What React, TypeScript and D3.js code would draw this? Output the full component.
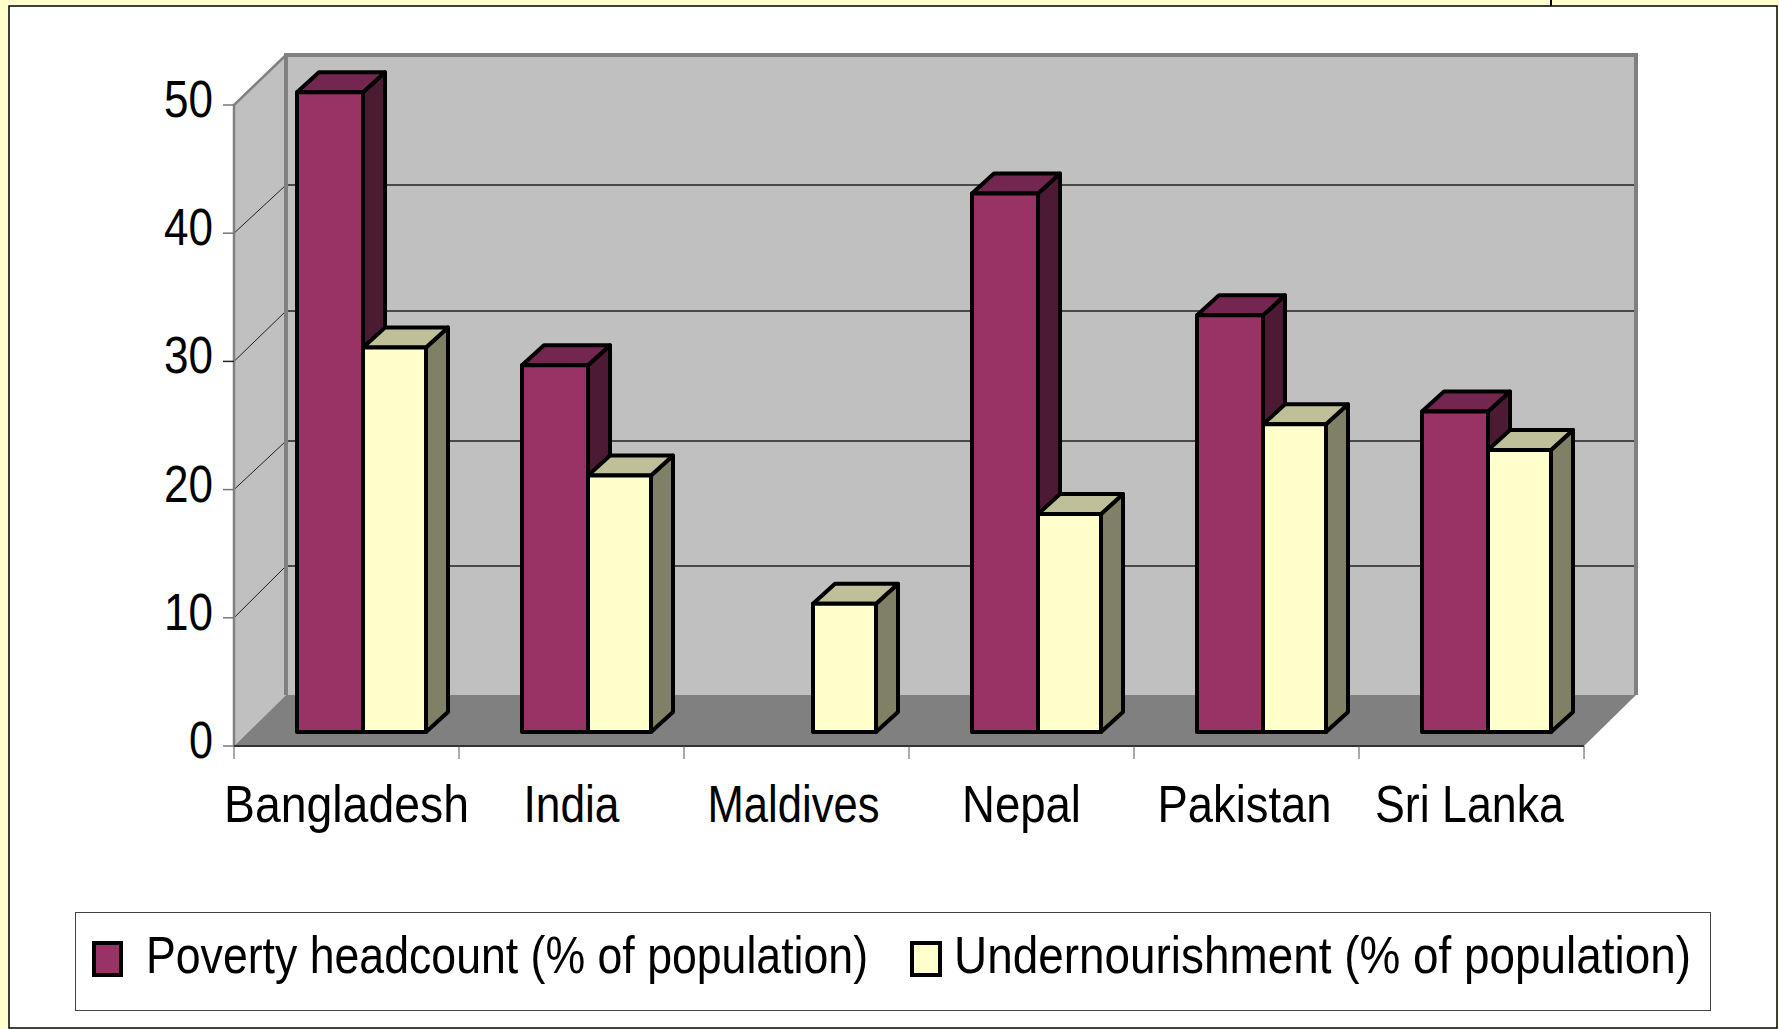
import React from "react";
import * as d3 from "d3";

const categories = ["Bangladesh", "India", "Maldives", "Nepal", "Pakistan", "Sri Lanka"];
const poverty: (number | null)[] = [49.9, 28.6, null, 42, 32.5, 25];
const undernourishment = [30, 20, 10, 17, 24, 22];
const yTicks = [0, 10, 20, 30, 40, 50];
const povertyLabel = "Poverty headcount (% of population)";
const underLabel = "Undernourishment (% of population)";

const W = 1779, H = 1029;
const FONT = "'Liberation Sans', Arial, sans-serif";
const FS = 52;
const catWidths = [245, 96, 172, 119, 174, 189];
const catNudge = [0, 0, -3, 0, -2, -2];
const catX = d3.scaleBand<string>().domain(categories).range([234, 1584]);
const yFront = d3.scaleLinear().domain([0, 50]).range([746, 105]);
const yBack = d3.scaleLinear().domain(yTicks).range([695, 566, 441, 311, 185, 55]);
const yBar = d3.scaleLinear().domain([0, 50]).range([732, 91]);
const DX = 52;
const BAR_OFF = 63, W1 = 66, W2 = 63, BDX = 22, BDY = 20;
const pts = (p: number[][]) => p.map((q) => q.join(",")).join(" ");

function Bar({ x, w, v, front, top, side }: { x: number; w: number; v: number; front: string; top: string; side: string }) {
  const y0 = yBar(0), y1 = yBar(v);
  const s = { stroke: "#000", strokeWidth: 4, strokeLinejoin: "round" as const };
  return (
    <g>
      <polygon points={pts([[x + w, y1], [x + w + BDX, y1 - BDY], [x + w + BDX, y0 - BDY], [x + w, y0]])} fill={side} {...s} />
      <polygon points={pts([[x, y1], [x + BDX, y1 - BDY], [x + w + BDX, y1 - BDY], [x + w, y1]])} fill={top} {...s} />
      <rect x={x} y={y1} width={w} height={y0 - y1} fill={front} {...s} />
    </g>
  );
}

export default function App() {
  const x0 = catX.range()[0], x1 = catX.range()[1];
  return (
    <svg width={W} height={H} viewBox={`0 0 ${W} ${H}`} style={{ position: "absolute", left: 0, top: 0, display: "block" }} fontFamily={FONT}>
      <rect width={W} height={H} fill="#FFFFCC" />
      <line x1={1551} x2={1551} y1={0} y2={6} stroke="#000" strokeWidth={2} />
      <rect x={9} y={6} width={1768} height={1022} fill="#fff" stroke="#000" strokeWidth={1.5} />

      {/* walls */}
      <polygon points={pts([[x0 + DX, yBack(50)], [x1 + DX, yBack(50)], [x1 + DX, yBack(0)], [x0 + DX, yBack(0)]])} fill="#C0C0C0" />
      <polygon points={pts([[x0, yFront(50)], [x0 + DX, yBack(50)], [x0 + DX, yBack(0)], [x0, yFront(0)]])} fill="#C0C0C0" />
      <polygon points={pts([[x0, yFront(0)], [x1, yFront(0)], [x1 + DX, yBack(0)], [x0 + DX, yBack(0)]])} fill="#808080" />

      {/* gridlines */}
      {yTicks.filter((t) => t > 0 && t < 50).map((t) => (
        <g key={t}>
          <line x1={x0 + DX} x2={x1 + DX} y1={yBack(t)} y2={yBack(t)} stroke="#222" strokeWidth={1.3} />
          <line x1={x0} x2={x0 + DX} y1={yFront(t)} y2={yBack(t)} stroke="#222" strokeWidth={1} />
        </g>
      ))}

      {/* wall borders */}
      <path d={`M${x0},${yFront(0)}V${yFront(50)}L${x0 + DX},${yBack(50)}`} fill="none" stroke="#808080" strokeWidth={2.5} />
      <path d={`M${x0 + DX},${yBack(0)}V${yBack(50)}H${x1 + DX}V${yBack(0)}`} fill="none" stroke="#808080" strokeWidth={4} />
      <line x1={x0} x2={x1} y1={yFront(0)} y2={yFront(0)} stroke="#333" strokeWidth={2} />

      {/* y axis */}
      {yTicks.map((t) => (
        <g key={t}>
          <line x1={223} x2={x0} y1={yFront(t)} y2={yFront(t)} stroke={t === 30 ? "#222" : "#777"} strokeWidth={1.5} />
          <text x={213} y={yFront(t) + 12} textAnchor="end" fontSize={FS} fill="#000"
            textLength={t === 0 ? 24 : 49} lengthAdjust="spacingAndGlyphs">{t}</text>
        </g>
      ))}

      {/* x axis */}
      {[...categories.map((c) => catX(c) as number), x1].map((x) => (
        <line key={x} x1={x} x2={x} y1={yFront(0)} y2={759} stroke="#555" strokeWidth={1} />
      ))}
      {categories.map((c, i) => (
        <text key={c} x={(catX(c) as number) + catX.bandwidth() / 2 - catWidths[i] / 2 + catNudge[i]} y={822} fontSize={FS} fill="#000"
          textLength={catWidths[i]} lengthAdjust="spacingAndGlyphs">{c}</text>
      ))}

      {/* bars */}
      {categories.map((c, i) => {
        const x = (catX(c) as number) + BAR_OFF;
        const p = poverty[i];
        return (
          <g key={c}>
            {p !== null && <Bar x={x} w={W1} v={p} front="#993366" top="#732650" side="#4D1A33" />}
            <Bar x={x + W1} w={W2} v={undernourishment[i]} front="#FFFFCC" top="#BFBF99" side="#808066" />
          </g>
        );
      })}

      {/* legend */}
      <rect x={75.5} y={912.5} width={1635} height={98} fill="#fff" stroke="#444" strokeWidth={1} />
      <rect x={94} y={943} width={27} height={32} fill="#993366" stroke="#000" strokeWidth={4} />
      <text x={146} y={973} fontSize={FS} fill="#000" textLength={722} lengthAdjust="spacingAndGlyphs">{povertyLabel}</text>
      <rect x={912} y={943} width={28} height={32} fill="#FFFFCC" stroke="#000" strokeWidth={4} />
      <text x={954} y={973} fontSize={FS} fill="#000" textLength={737} lengthAdjust="spacingAndGlyphs">{underLabel}</text>
    </svg>
  );
}
